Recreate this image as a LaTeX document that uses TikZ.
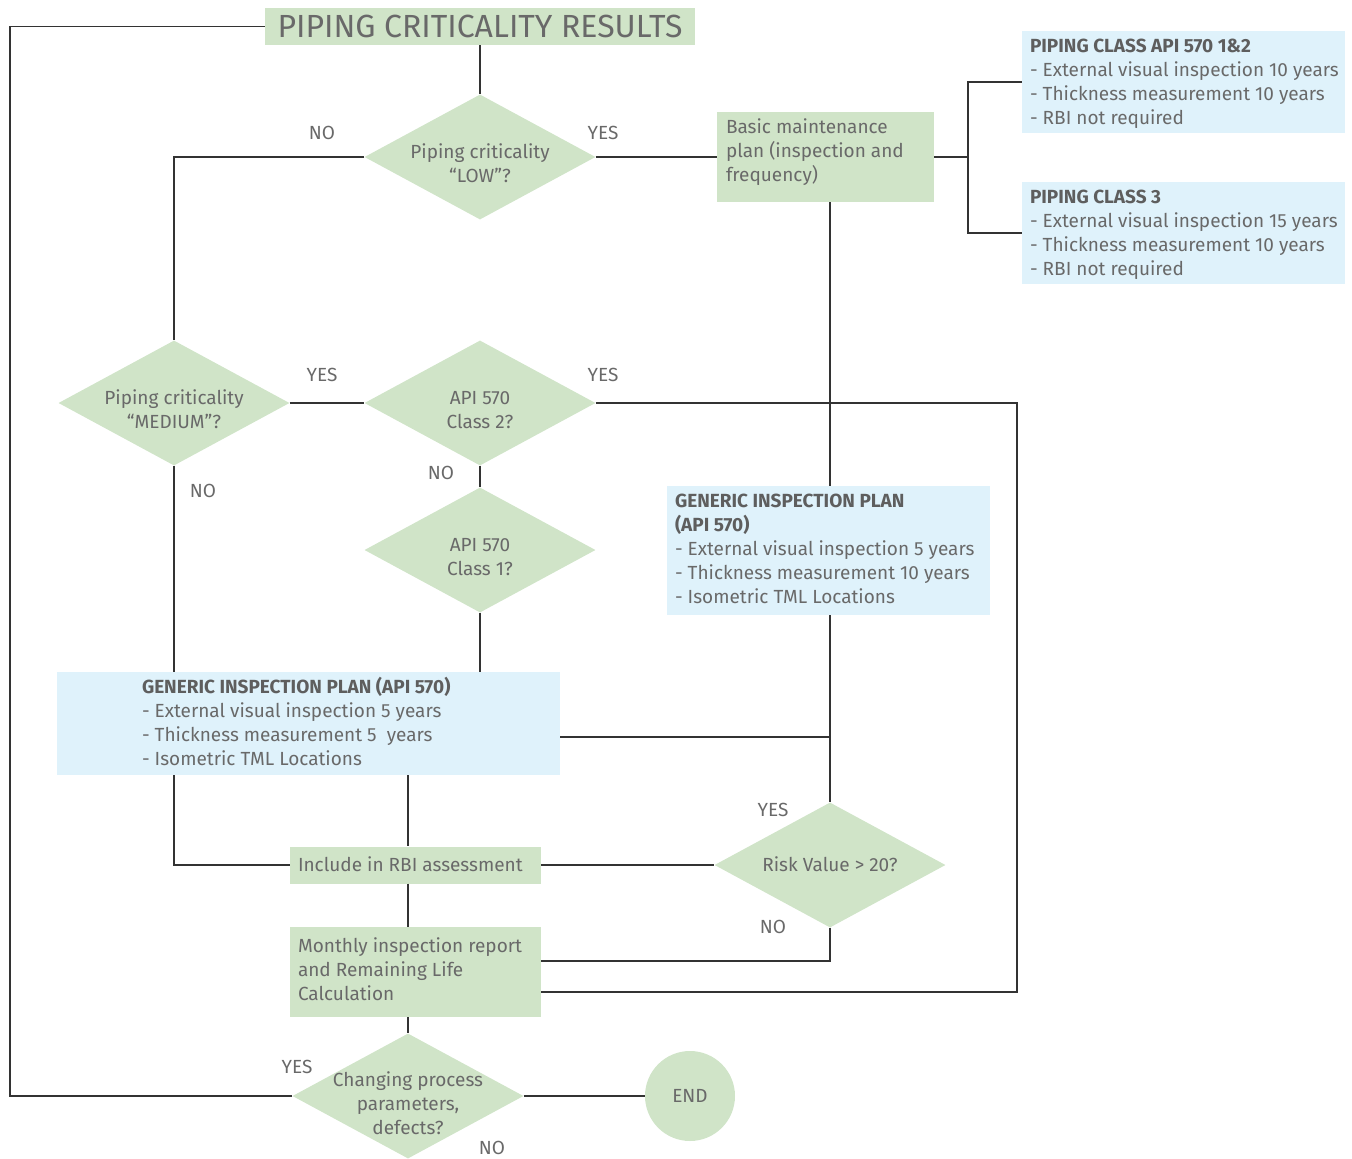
\documentclass[tikz,border=0pt]{standalone}
\usepackage{fontspec}
\setmainfont{Fira Sans}
\usetikzlibrary{shapes.geometric}

\definecolor{pgreen}{HTML}{D0E4C8}
\definecolor{pblue}{HTML}{DFF2FB}
\definecolor{ptext}{HTML}{696969}
\definecolor{phead}{HTML}{5E5E5E}
\definecolor{pline}{HTML}{333333}

\newcommand{\body}{\fontsize{19}{24}\selectfont}
% text lines, no height of their own: left-aligned for boxes, centred for decisions
\newcommand{\txtl}[2][-6pt]{\smash{\raisebox{#1}{\begin{tabular}{@{}l@{}}#2\end{tabular}}}}
\newcommand{\txtc}[2][-13pt]{\smash{\makebox[0pt]{\raisebox{#1}{\begin{tabular}{@{}c@{}}#2\end{tabular}}}}}
\newcommand{\inbox}[3]{\hspace*{#1}\makebox[#2][l]{#3}}
\newcommand{\hd}[1]{{\bfseries\color{phead}#1}}

\tikzset{
  conn/.style={draw=pline, line width=1.5pt},
  gbox/.style={fill=pgreen, text=ptext, font=\body, inner sep=0pt},
  bbox/.style={fill=pblue, text=ptext, font=\body, inner sep=0pt},
  dec/.style={diamond, fill=pgreen, text=ptext, font=\body, inner sep=0pt,
    minimum width=231pt, minimum height=125pt},
  ans/.style={text=ptext, font=\body, inner sep=0pt}
}

\begin{document}
\begin{tikzpicture}[x=1pt, y=-1pt]
  \useasboundingbox (0,0) rectangle (1352,1159);

  % boxes
  \node[gbox, font=\fontsize{32}{34}\selectfont,
    minimum width=430pt, minimum height=37pt] (title) at (480,26.5) {PIPING CRITICALITY RESULTS};
  \node[gbox, minimum width=217pt, minimum height=90pt] (basic) at (825.5,157)
    {\inbox{9pt}{208pt}{\txtl[0pt]{Basic maintenance\\plan (inspection and\\frequency)}}};
  \node[bbox, minimum width=323pt, minimum height=102pt] (cls12) at (1183.5,82)
    {\inbox{8pt}{315pt}{\txtl{\hd{PIPING CLASS API 570 1\&2}\\- External visual inspection 10 years\\- Thickness measurement 10 years\\- RBI not required}}};
  \node[bbox, minimum width=323pt, minimum height=102pt] (cls3) at (1183.5,233)
    {\inbox{8pt}{315pt}{\txtl{\hd{PIPING CLASS 3}\\- External visual inspection 15 years\\- Thickness measurement 10 years\\- RBI not required}}};
  \node[bbox, minimum width=323pt, minimum height=129pt] (genr) at (828.5,550.5)
    {\inbox{8pt}{315pt}{\txtl[-4.5pt]{\hd{GENERIC INSPECTION PLAN}\\\hd{(API 570)}\\- External visual inspection 5 years\\- Thickness measurement 10 years\\- Isometric TML Locations}}};
  \node[bbox, minimum width=503pt, minimum height=103pt] (genl) at (308.5,723.5)
    {\inbox{85pt}{418pt}{\txtl[-5.5pt]{\hd{GENERIC INSPECTION PLAN (API 570)}\\- External visual inspection 5 years\\- Thickness measurement 5~ years\\- Isometric TML Locations}}};
  \node[gbox, minimum width=251pt, minimum height=37pt] (incl) at (415.5,865)
    {\inbox{8pt}{243pt}{\txtl[-6.5pt]{Include in RBI assessment}}};
  \node[gbox, minimum width=251pt, minimum height=90pt] (month) at (415.5,972)
    {\inbox{8pt}{243pt}{\txtl[-4pt]{Monthly inspection report\\and Remaining Life\\Calculation}}};

  % decisions
  \node[dec] (low) at (480,157) {\txtc{Piping criticality\\``LOW''?}};
  \node[dec] (med) at (174,403) {\txtc{Piping criticality\\``MEDIUM''?}};
  \node[dec] (cl2) at (480,403) {\txtc{API 570\\Class 2?}};
  \node[dec] (cl1) at (480,550) {\txtc{API 570\\Class 1?}};
  \node[dec] (risk) at (830,865) {\txtc[-6pt]{Risk Value > 20?}};
  \node[dec] (chg) at (408,1096) {\txtc[-14pt]{Changing process\\parameters,\\defects?}};
  \node[circle, fill=pgreen, text=ptext, font=\body, inner sep=0pt, minimum size=90pt] (end) at (690,1096) {END};

  % connectors
  \coordinate (fork) at (968,157);
  \coordinate (rgt) at (1017,403);
  \coordinate (lft) at (10,26.5);

  \draw[conn] (title) -- (low);
  \draw[conn] (low.west) -| (med.north);
  \draw[conn] (low.east) -- (basic.west);
  \draw[conn] (basic.east) -- (fork);
  \draw[conn] (cls12.west) -| (fork) |- (cls3.west);
  \draw[conn] (risk.north |- basic.south) -- (risk.north |- genr.north);
  \draw[conn] (med.east) -- (cl2.west);
  \draw[conn] (cl2.east) -- (rgt) |- ([yshift=-20pt]month.east);
  \draw[conn] (cl2.south) -- (cl1.north);
  \draw[conn] (cl1.south) -- (cl1.south |- genl.north);
  \draw[conn] (med.south) -- (med.south |- genl.north);
  \draw[conn] (risk.north |- genr.south) -- (risk.north);
  \draw[conn] ([yshift=-13.5pt]genl.east) -- ([yshift=-13.5pt]genl.east -| risk);
  \draw[conn] (med.south |- genl.south) |- (incl.west);
  \draw[conn] (chg |- genl.south) -- (chg |- incl.north);
  \draw[conn] (incl.east) -- (risk.west);
  \draw[conn] (risk.south) |- ([yshift=11pt]month.east);
  \draw[conn] (chg |- incl.south) -- (chg |- month.north);
  \draw[conn] (chg |- month.south) -- (chg.north);
  \draw[conn] (chg.west) -| (lft) -- (title.west);
  \draw[conn] (chg.east) -- (end.west);

  % answers
  \node[ans] (lowno) at (322,133) {NO};
  \node[ans] (lowyes) at (603,133) {YES};
  \node[ans] (medyes) at (322,375) {YES};
  \node[ans] (cl2yes) at (603,375) {YES};
  \node[ans] (cl2no) at (441,473) {NO};
  \node[ans] (medno) at (203,491) {NO};
  \node[ans] (riskyes) at (773,810) {YES};
  \node[ans] (riskno) at (773,927) {NO};
  \node[ans] (chgyes) at (297,1067) {YES};
  \node[ans] (chgno) at (492,1148) {NO};
\end{tikzpicture}
\end{document}
